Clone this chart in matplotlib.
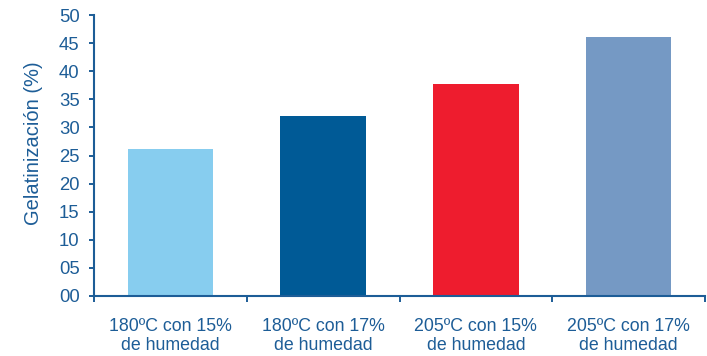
import matplotlib
matplotlib.use('Agg')
import matplotlib.pyplot as plt
import numpy as np

# datos
categorias = ['180ºC con 15%\nde humedad', '180ºC con 17%\nde humedad',
              '205ºC con 15%\nde humedad', '205ºC con 17%\nde humedad']
gelatinizacion = [26.1, 32.1, 37.7, 46.1]
colores = ['#87cdef', '#005a96', '#ee1c2e', '#7599c4']
yticks = [0, 5, 10, 15, 20, 25, 30, 35, 40, 45, 50]
ytick_labels = ['%02d' % v for v in yticks]

azul = '#1d5d97'
plt.rcParams['font.family'] = ['Liberation Sans', 'DejaVu Sans']

fig = plt.figure(figsize=(7.07, 3.56), dpi=100)
ax = fig.add_axes([94 / 707, 1 - 296 / 356, (705 - 94) / 707, (296 - 15) / 356])

x = np.arange(len(categorias))
ax.bar(x, gelatinizacion, width=0.56, color=colores)

ax.set_xlim(-0.5, len(categorias) - 0.5)
ax.set_ylim(0, 50)

# ejes
for s in ['top', 'right']:
    ax.spines[s].set_visible(False)
for s in ['left', 'bottom']:
    ax.spines[s].set_color(azul)
    ax.spines[s].set_linewidth(1.5)

ax.set_yticks(yticks)
ax.set_yticklabels(ytick_labels)
ax.tick_params(axis='y', colors=azul, length=3.8, width=1.4, pad=6.5, labelsize=13.3)

# marcas del eje x en los límites de categoría, etiquetas en el centro
ax.set_xticks(np.arange(-0.5, len(categorias), 1.0))
ax.set_xticklabels([])
ax.tick_params(axis='x', which='major', colors=azul, length=4.5, width=1.4)
ax.set_xticks(x, minor=True)
ax.set_xticklabels(categorias, minor=True, linespacing=1.12)
ax.tick_params(axis='x', which='minor', length=0, pad=16, labelsize=12.8, labelcolor=azul)

ax.set_ylabel('Gelatinización (%)', color=azul, fontsize=14.5)
ax.yaxis.set_label_coords(-0.083, 0.543)

fig.savefig('out.png', dpi=100)
